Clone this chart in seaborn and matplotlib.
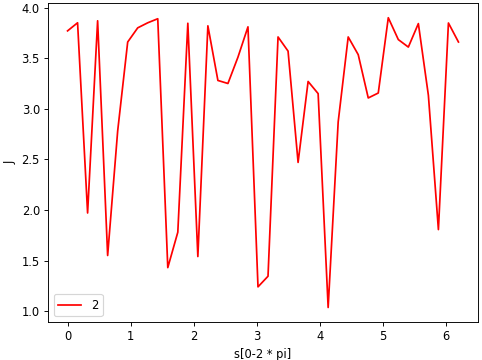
import numpy as np
import pandas as pd
import matplotlib
matplotlib.use("Agg")
import matplotlib.pyplot as plt
import seaborn as sns

s = np.linspace(0, 6.2, 40)
J = [3.77, 3.85, 1.97, 3.87, 1.55, 2.78, 3.66, 3.80, 3.85, 3.89,
     1.43, 1.78, 3.845, 1.54, 3.82, 3.28, 3.25, 3.51, 3.81, 1.24,
     1.345, 3.71, 3.57, 2.47, 3.27, 3.15, 1.036, 2.87, 3.71, 3.535,
     3.107, 3.156, 3.90, 3.684, 3.61, 3.842, 3.133, 1.806, 3.848, 3.66]
label = "2"

df = pd.DataFrame({"s": s, "J": J})

DPI = 83
fig, ax = plt.subplots(figsize=(482 / DPI, 360 / DPI), dpi=DPI)
sns.lineplot(data=df, x="s", y="J", color="red", label=label, ax=ax, linewidth=1.5)
ax.set_xlabel("s[0-2 * pi]")
ax.set_ylabel("J")
ax.legend(loc="lower left")
fig.subplots_adjust(left=0.0996, right=0.9917, top=0.991, bottom=0.1056)
fig.savefig("out.png", dpi=DPI)
